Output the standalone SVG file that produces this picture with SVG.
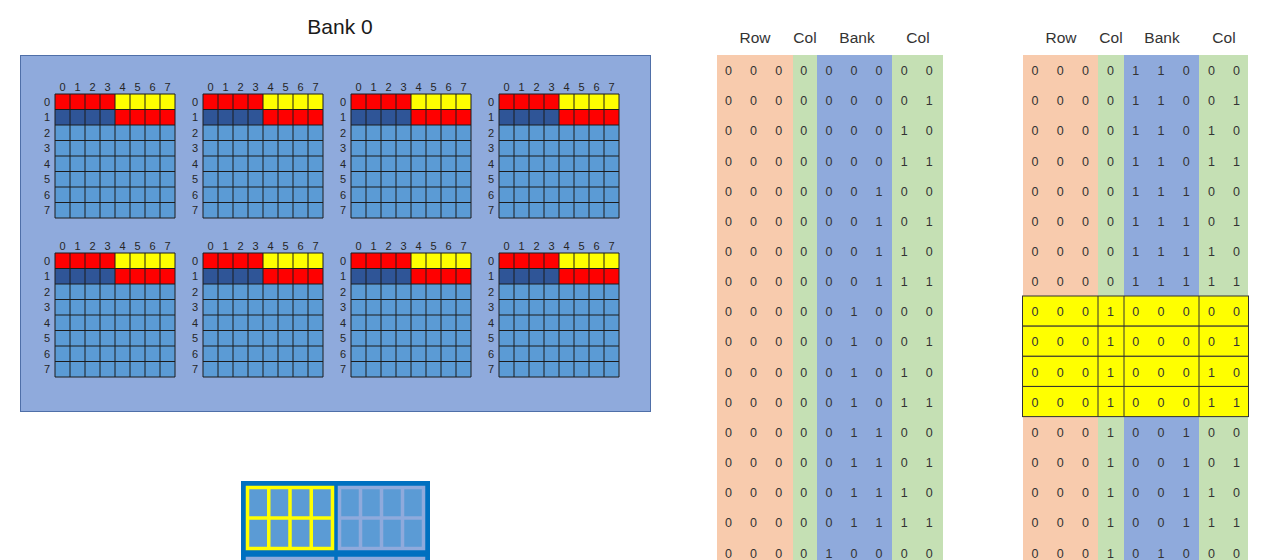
<svg xmlns="http://www.w3.org/2000/svg" xmlns:xlink="http://www.w3.org/1999/xlink" width="1276" height="560" viewBox="0 0 1276 560">
<style>
.lbl{font-family:"Liberation Sans",Arial,sans-serif;font-size:11px;fill:#262626;text-anchor:middle}
.hdr{font-family:"Liberation Sans",Arial,sans-serif;font-size:15.5px;fill:#333;text-anchor:middle}
.dig{font-family:"Liberation Sans",Arial,sans-serif;font-size:12.5px;fill:#333;text-anchor:middle}
.title{font-family:"Liberation Sans",Arial,sans-serif;font-size:21px;fill:#1a1a1a;text-anchor:middle}
.grid{fill:none;stroke:#1c1c1c;stroke-width:1}
.rowb{fill:#F8CBAD}.colb{fill:#C5E0B4}.bankb{fill:#8FAADC}
.hl{fill:#FFFF00;stroke:#333;stroke-width:1}
</style>
<defs>
<g id="sub">
<rect x="0" y="0" width="60" height="15.5" fill="#FF0000"/>
<rect x="60" y="0" width="60" height="15.5" fill="#FFFF00"/>
<rect x="0" y="15.5" width="60" height="15.5" fill="#2F5597"/>
<rect x="60" y="15.5" width="60" height="15.5" fill="#FF0000"/>
<rect x="0" y="31" width="120" height="93" fill="#5B9BD5"/>
<path class="grid" d="M0,0V124M15,0V124M30,0V124M45,0V124M60,0V124M75,0V124M90,0V124M105,0V124M120,0V124M0,0H120M0,15.5H120M0,31H120M0,46.5H120M0,62H120M0,77.5H120M0,93H120M0,108.5H120M0,124H120"/>
<text class="lbl" x="7.5 22.5 37.5 52.5 67.5 82.5 97.5 112.5" y="-3">01234567</text>
<text class="lbl" x="-8" y="11.8">0</text>
<text class="lbl" x="-8" y="27.3">1</text>
<text class="lbl" x="-8" y="42.8">2</text>
<text class="lbl" x="-8" y="58.3">3</text>
<text class="lbl" x="-8" y="73.8">4</text>
<text class="lbl" x="-8" y="89.3">5</text>
<text class="lbl" x="-8" y="104.8">6</text>
<text class="lbl" x="-8" y="120.3">7</text>
</g>
</defs>
<rect width="1276" height="560" fill="#FFFFFF"/>

<g id="bank0">
<text class="title" x="340" y="34">Bank 0</text>
<rect x="20.5" y="55.5" width="630" height="356" fill="#8FAADC" stroke="#4F6FA8" stroke-width="1"/>
</g>
<g id="sub-0"><use xlink:href="#sub" x="55" y="94"/></g>
<g id="sub-1"><use xlink:href="#sub" x="203" y="94"/></g>
<g id="sub-2"><use xlink:href="#sub" x="351" y="94"/></g>
<g id="sub-3"><use xlink:href="#sub" x="499" y="94"/></g>
<g id="sub-4"><use xlink:href="#sub" x="55" y="253"/></g>
<g id="sub-5"><use xlink:href="#sub" x="203" y="253"/></g>
<g id="sub-6"><use xlink:href="#sub" x="351" y="253"/></g>
<g id="sub-7"><use xlink:href="#sub" x="499" y="253"/></g>

<g id="chip">
<rect x="241" y="481" width="189" height="90" fill="#0070C0"/>
<rect x="247.5" y="487.5" width="85" height="61" fill="#5B9BD5" stroke="#FFFF00" stroke-width="3.5"/>
<path d="M268.75,487.5V548.5M290,487.5V548.5M311.25,487.5V548.5M247.5,518H332.5" stroke="#FFFF00" stroke-width="3.5" fill="none"/>
<rect x="339.5" y="487.5" width="84" height="61" fill="#5B9BD5" stroke="#8FAADC" stroke-width="3.5"/>
<path d="M360.5,487.5V548.5M381.5,487.5V548.5M402.5,487.5V548.5M339.5,518H423.5" stroke="#8FAADC" stroke-width="3.5" fill="none"/>
<rect x="247.5" y="558.5" width="85" height="20" fill="#5B9BD5" stroke="#8FAADC" stroke-width="3.5"/>
<rect x="339.5" y="558.5" width="84" height="20" fill="#5B9BD5" stroke="#8FAADC" stroke-width="3.5"/>
</g>

<g id="table1">
<rect class="rowb" x="717" y="55" width="76" height="510"/>
<rect class="colb" x="793" y="55" width="24" height="510"/>
<rect class="bankb" x="817" y="55" width="75" height="510"/>
<rect class="colb" x="892" y="55" width="51" height="510"/>
<text class="hdr" x="755" y="43">Row</text>
<text class="hdr" x="805" y="43">Col</text>
<text class="hdr" x="857" y="43">Bank</text>
<text class="hdr" x="918" y="43">Col</text>
<g class="dig">
<text x="728.5 753.6 778.7 803.8 828.9 854 879.1 904.2 929.3" y="75.1">000000000</text>
<text x="728.5 753.6 778.7 803.8 828.9 854 879.1 904.2 929.3" y="105.25">000000001</text>
<text x="728.5 753.6 778.7 803.8 828.9 854 879.1 904.2 929.3" y="135.4">000000010</text>
<text x="728.5 753.6 778.7 803.8 828.9 854 879.1 904.2 929.3" y="165.55">000000011</text>
<text x="728.5 753.6 778.7 803.8 828.9 854 879.1 904.2 929.3" y="195.7">000000100</text>
<text x="728.5 753.6 778.7 803.8 828.9 854 879.1 904.2 929.3" y="225.85">000000101</text>
<text x="728.5 753.6 778.7 803.8 828.9 854 879.1 904.2 929.3" y="256">000000110</text>
<text x="728.5 753.6 778.7 803.8 828.9 854 879.1 904.2 929.3" y="286.15">000000111</text>
<text x="728.5 753.6 778.7 803.8 828.9 854 879.1 904.2 929.3" y="316.3">000001000</text>
<text x="728.5 753.6 778.7 803.8 828.9 854 879.1 904.2 929.3" y="346.45">000001001</text>
<text x="728.5 753.6 778.7 803.8 828.9 854 879.1 904.2 929.3" y="376.6">000001010</text>
<text x="728.5 753.6 778.7 803.8 828.9 854 879.1 904.2 929.3" y="406.75">000001011</text>
<text x="728.5 753.6 778.7 803.8 828.9 854 879.1 904.2 929.3" y="436.9">000001100</text>
<text x="728.5 753.6 778.7 803.8 828.9 854 879.1 904.2 929.3" y="467.05">000001101</text>
<text x="728.5 753.6 778.7 803.8 828.9 854 879.1 904.2 929.3" y="497.2">000001110</text>
<text x="728.5 753.6 778.7 803.8 828.9 854 879.1 904.2 929.3" y="527.35">000001111</text>
<text x="728.5 753.6 778.7 803.8 828.9 854 879.1 904.2 929.3" y="557.5">000010000</text>
</g>
</g>

<g id="table2">
<rect class="rowb" x="1023" y="55" width="75" height="510"/>
<rect class="colb" x="1098" y="55" width="26" height="510"/>
<rect class="bankb" x="1124" y="55" width="75" height="510"/>
<rect class="colb" x="1199" y="55" width="49" height="510"/>
<text class="hdr" x="1061" y="43">Row</text>
<text class="hdr" x="1111" y="43">Col</text>
<text class="hdr" x="1162" y="43">Bank</text>
<text class="hdr" x="1224" y="43">Col</text>
<g id="highlight">
<rect class="hl" x="1022.5" y="296" width="226" height="30.15"/>
<rect class="hl" x="1022.5" y="326.15" width="226" height="30.15"/>
<rect class="hl" x="1022.5" y="356.3" width="226" height="30.15"/>
<rect class="hl" x="1022.5" y="386.45" width="226" height="30.15"/>
<path d="M1098,296V416.6M1124,296V416.6M1199,296V416.6" stroke="#333" stroke-width="1" fill="none"/>
</g>
<g class="dig">
<text x="1035 1060.2 1085.4 1110.6 1135.8 1161 1186.2 1211.4 1236.6" y="75.1">000011000</text>
<text x="1035 1060.2 1085.4 1110.6 1135.8 1161 1186.2 1211.4 1236.6" y="105.25">000011001</text>
<text x="1035 1060.2 1085.4 1110.6 1135.8 1161 1186.2 1211.4 1236.6" y="135.4">000011010</text>
<text x="1035 1060.2 1085.4 1110.6 1135.8 1161 1186.2 1211.4 1236.6" y="165.55">000011011</text>
<text x="1035 1060.2 1085.4 1110.6 1135.8 1161 1186.2 1211.4 1236.6" y="195.7">000011100</text>
<text x="1035 1060.2 1085.4 1110.6 1135.8 1161 1186.2 1211.4 1236.6" y="225.85">000011101</text>
<text x="1035 1060.2 1085.4 1110.6 1135.8 1161 1186.2 1211.4 1236.6" y="256">000011110</text>
<text x="1035 1060.2 1085.4 1110.6 1135.8 1161 1186.2 1211.4 1236.6" y="286.15">000011111</text>
<text x="1035 1060.2 1085.4 1110.6 1135.8 1161 1186.2 1211.4 1236.6" y="316.3">000100000</text>
<text x="1035 1060.2 1085.4 1110.6 1135.8 1161 1186.2 1211.4 1236.6" y="346.45">000100001</text>
<text x="1035 1060.2 1085.4 1110.6 1135.8 1161 1186.2 1211.4 1236.6" y="376.6">000100010</text>
<text x="1035 1060.2 1085.4 1110.6 1135.8 1161 1186.2 1211.4 1236.6" y="406.75">000100011</text>
<text x="1035 1060.2 1085.4 1110.6 1135.8 1161 1186.2 1211.4 1236.6" y="436.9">000100100</text>
<text x="1035 1060.2 1085.4 1110.6 1135.8 1161 1186.2 1211.4 1236.6" y="467.05">000100101</text>
<text x="1035 1060.2 1085.4 1110.6 1135.8 1161 1186.2 1211.4 1236.6" y="497.2">000100110</text>
<text x="1035 1060.2 1085.4 1110.6 1135.8 1161 1186.2 1211.4 1236.6" y="527.35">000100111</text>
<text x="1035 1060.2 1085.4 1110.6 1135.8 1161 1186.2 1211.4 1236.6" y="557.5">000101000</text>
</g>
</g>
</svg>
